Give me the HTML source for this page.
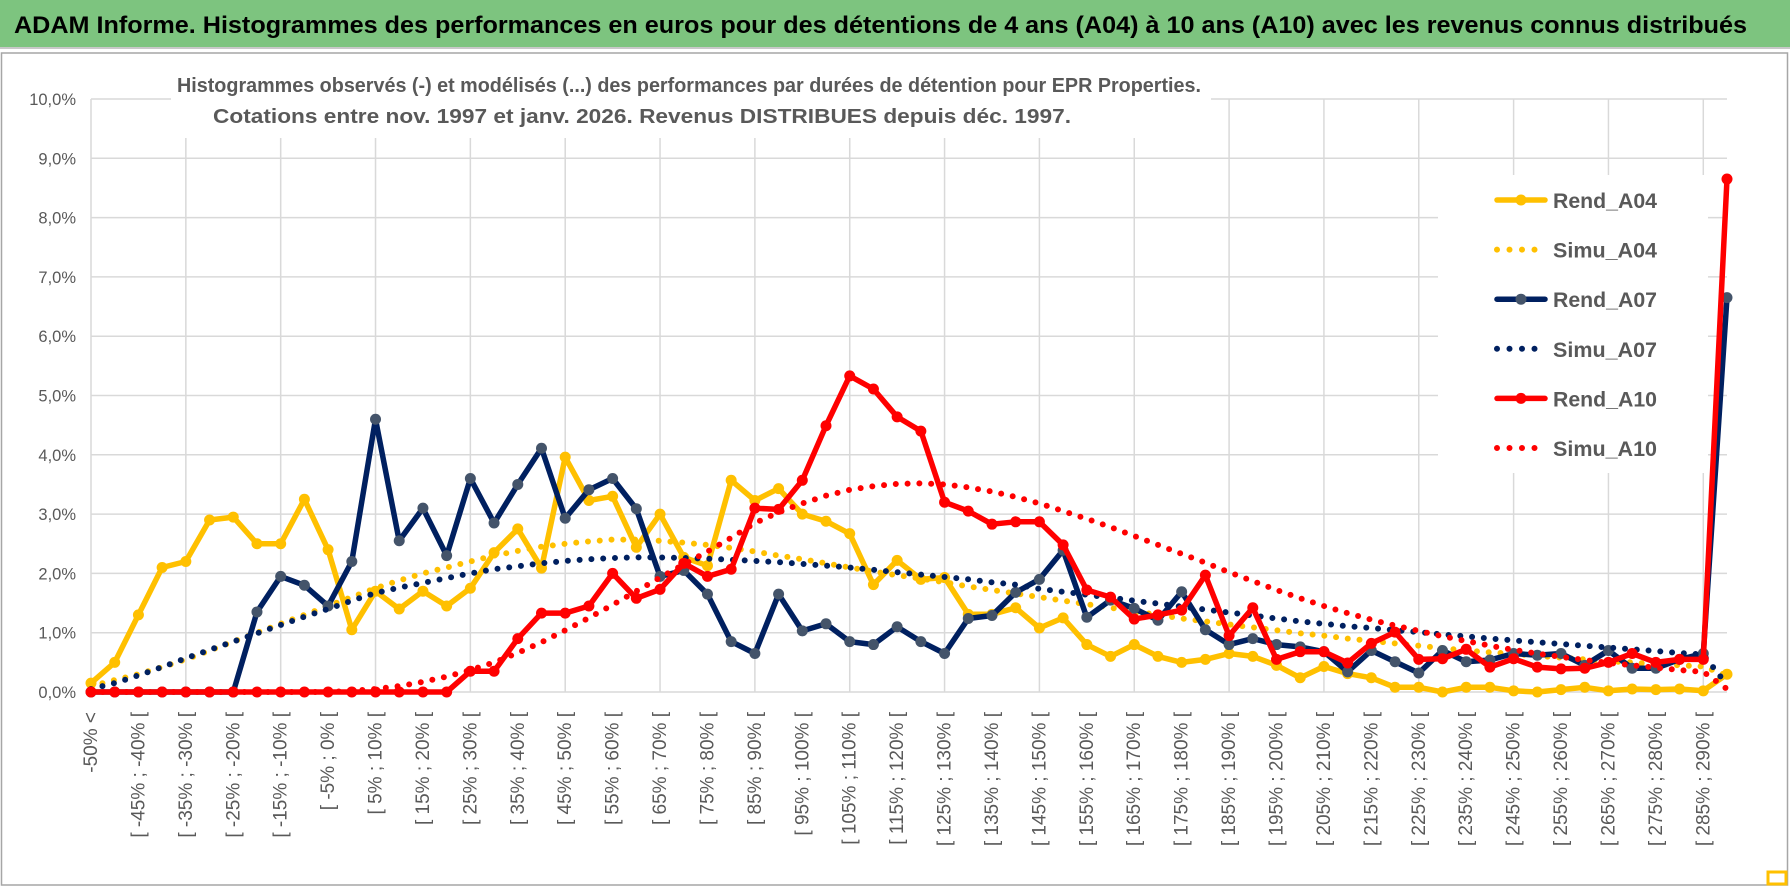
<!DOCTYPE html>
<html><head><meta charset="utf-8"><style>
html,body{margin:0;padding:0;background:#fff;width:1790px;height:888px;overflow:hidden}
svg{display:block;font-family:"Liberation Sans",sans-serif}
</style></head><body>
<svg id="chart" width="1790" height="888" viewBox="0 0 1790 888">
<rect x="0" y="0" width="1790" height="47" fill="#7dc47f"/>
<line x1="0" y1="48" x2="1790" y2="48" stroke="#c8c8c8" stroke-width="2"/>
<text x="14" y="33" font-size="24" font-weight="bold" fill="#000" textLength="1733" lengthAdjust="spacingAndGlyphs">ADAM Informe. Histogrammes des performances en euros pour des détentions de 4 ans (A04) à 10 ans (A10) avec les revenus connus distribués</text>
<rect x="1.5" y="53" width="1786" height="832" fill="#fff" stroke="#a6a6a6" stroke-width="1.5"/>
<g id="grid"></g>
<g id="ylabels"></g>
<g id="xlabels"></g>
<rect x="171" y="68" width="1040" height="70" fill="#fff"/>
<text x="177" y="92" font-size="20" font-weight="bold" fill="#595959" textLength="1024" lengthAdjust="spacingAndGlyphs">Histogrammes observés (-) et modélisés (...) des performances par durées de détention pour EPR Properties.</text>
<text x="213" y="123" font-size="20" font-weight="bold" fill="#595959" textLength="858" lengthAdjust="spacingAndGlyphs">Cotations entre nov. 1997 et janv. 2026. Revenus DISTRIBUES depuis déc. 1997.</text>
<g id="series"></g>
<g id="legend"></g>
<rect x="1768" y="872" width="18" height="12" fill="none" stroke="#ffc000" stroke-width="3"/>
</svg>
<script>
const rendA04 = [0.15,0.5,1.3,2.1,2.2,2.9,2.95,2.5,2.5,3.25,2.4,1.05,1.7,1.4,1.7,1.45,1.75,2.35,2.75,2.09,3.96,3.23,3.3,2.44,3.0,2.27,2.13,3.57,3.23,3.43,3.0,2.88,2.67,1.81,2.22,1.9,1.93,1.31,1.31,1.42,1.08,1.25,0.8,0.6,0.8,0.6,0.5,0.55,0.65,0.6,0.45,0.24,0.43,0.31,0.24,0.08,0.08,0.0,0.08,0.08,0.02,0.0,0.04,0.08,0.02,0.05,0.04,0.05,0.02,0.3];
const simuA04 = [0.1,0.2,0.3,0.42,0.55,0.7,0.85,1.0,1.15,1.3,1.45,1.6,1.75,1.88,2.0,2.1,2.2,2.3,2.38,2.45,2.5,2.54,2.57,2.57,2.55,2.52,2.48,2.43,2.37,2.3,2.24,2.17,2.1,2.03,1.97,1.91,1.85,1.78,1.72,1.66,1.6,1.54,1.48,1.42,1.36,1.3,1.24,1.19,1.14,1.09,1.04,0.99,0.95,0.9,0.86,0.82,0.78,0.74,0.7,0.67,0.64,0.61,0.58,0.55,0.52,0.5,0.47,0.45,0.43,0.28];
const rendA07 = [0,0,0,0,0,0,0,1.35,1.95,1.8,1.45,2.2,4.6,2.55,3.1,2.3,3.6,2.85,3.5,4.11,2.93,3.41,3.6,3.09,1.95,2.05,1.65,0.85,0.65,1.65,1.03,1.15,0.85,0.8,1.1,0.85,0.65,1.24,1.29,1.68,1.9,2.39,1.26,1.55,1.41,1.21,1.69,1.05,0.8,0.9,0.8,0.76,0.68,0.34,0.7,0.51,0.32,0.7,0.51,0.54,0.65,0.62,0.65,0.45,0.7,0.4,0.4,0.55,0.65,6.65];
const simuA07 = [0.05,0.15,0.28,0.42,0.57,0.71,0.85,0.99,1.13,1.27,1.4,1.54,1.67,1.76,1.84,1.92,2.0,2.07,2.12,2.17,2.21,2.24,2.26,2.27,2.27,2.26,2.25,2.23,2.21,2.19,2.16,2.13,2.1,2.06,2.02,1.98,1.94,1.9,1.85,1.81,1.74,1.69,1.64,1.59,1.54,1.49,1.44,1.39,1.34,1.29,1.24,1.19,1.15,1.11,1.08,1.04,1.01,0.97,0.94,0.9,0.87,0.84,0.81,0.78,0.75,0.72,0.69,0.66,0.63,0.12];
const rendA10 = [0,0,0,0,0,0,0,0,0,0,0,0,0,0,0,0,0.35,0.35,0.9,1.33,1.33,1.45,2.0,1.58,1.73,2.17,1.95,2.07,3.1,3.08,3.57,4.49,5.33,5.11,4.64,4.4,3.2,3.05,2.83,2.87,2.87,2.48,1.72,1.6,1.23,1.3,1.38,1.97,0.95,1.42,0.55,0.68,0.68,0.49,0.82,1.01,0.55,0.56,0.72,0.42,0.56,0.42,0.39,0.4,0.5,0.65,0.5,0.55,0.55,8.65];
const simuA10 = [0,0,0,0,0,0,0,0,0,0,0,0.02,0.05,0.1,0.17,0.26,0.37,0.5,0.66,0.84,1.04,1.25,1.47,1.7,1.93,2.15,2.37,2.6,2.85,3.03,3.18,3.31,3.41,3.47,3.51,3.52,3.5,3.45,3.38,3.29,3.18,3.05,2.92,2.78,2.63,2.48,2.33,2.18,2.02,1.87,1.72,1.58,1.45,1.33,1.22,1.12,1.03,0.94,0.86,0.78,0.71,0.65,0.59,0.54,0.49,0.45,0.41,0.37,0.34,0.05];
const yTicks = [0,1,2,3,4,5,6,7,8,9,10];
const seriesNames = ["Rend_A04","Simu_A04","Rend_A07","Simu_A07","Rend_A10","Simu_A10"];

const NS = "http://www.w3.org/2000/svg";
const N = rendA04.length;
const X0 = 91, X1 = 1727, Y0 = 692, Y10 = 99;
function xs(i){ return X0 + (X1 - X0) * i / (N - 1); }
function ys(v){ return Y0 - (Y0 - Y10) * v / 10; }
function mk(tag, attrs, parent){ const e = document.createElementNS(NS, tag); for (const k in attrs) e.setAttribute(k, attrs[k]); parent.appendChild(e); return e; }
function catLabel(i){ if (i === 0) return "-50% <"; const lo = -55 + 5 * i; return "[ " + lo + "% ; " + (lo + 5) + "% ["; }

const grid = document.getElementById("grid");
yTicks.forEach(t => {
  const l = mk("line", {x1: X0, x2: X1, y1: ys(t), y2: ys(t), stroke: "#d9d9d9", "stroke-width": 1.5}, grid);
  
  
});
for (let i = 0; i < N; i += 4) {
  const l = mk("line", {x1: xs(i), x2: xs(i), y1: Y10, y2: Y0, stroke: "#d9d9d9", "stroke-width": 1.5}, grid);
  
  
}
const yl = document.getElementById("ylabels");
yTicks.forEach(t => {
  const tx = mk("text", {x: 76, y: ys(t) + 6, "font-size": 16.5, fill: "#595959", "text-anchor": "end"}, yl);
  tx.textContent = t.toFixed(1).replace(".", ",") + "%";
  
  
});
const xl = document.getElementById("xlabels");
for (let i = 0; i < N; i += 2) {
  const x = xs(i) + 6, y = 712;
  const tx = mk("text", {x: x, y: y, "font-size": 19, fill: "#595959", "text-anchor": "end", transform: "rotate(-90 " + x + " " + y + ")"}, xl);
  tx.textContent = catLabel(i);
  
  
}

const sg = document.getElementById("series");
function pts(arr){ return arr.map((v, i) => xs(i).toFixed(1) + "," + ys(v).toFixed(1)).join(" "); }
function drawRend(arr, color, mcolor, name){
  const g = mk("g", {}, sg);
  
  
  mk("polyline", {points: pts(arr), fill: "none", stroke: color, "stroke-width": 5.5, "stroke-linejoin": "round"}, g);
  arr.forEach((v, i) => {
    const c = mk("circle", {cx: xs(i), cy: ys(v), r: 5.5, fill: mcolor}, g);
    
    
  });
}
function drawSimu(arr, color, name){
  const p = mk("polyline", {points: pts(arr), fill: "none", stroke: color, "stroke-width": 6, "stroke-linecap": "round", "stroke-dasharray": "0 11.8"}, sg);
  
  
}
drawRend(rendA04, "#ffc000", "#ffc000", "rend-a04-line");
drawSimu(simuA04, "#ffc000", "simu-a04-line");
drawRend(rendA07, "#002060", "#44546a", "rend-a07-line");
drawSimu(simuA07, "#002060", "simu-a07-line");
drawRend(rendA10, "#ff0000", "#ff0000", "rend-a10-line");
drawSimu(simuA10, "#ff0000", "simu-a10-line");

const lg = document.getElementById("legend");
mk("rect", {x: 1438, y: 175, width: 270, height: 298, fill: "#fff"}, lg);
const legColors = ["#ffc000","#ffc000","#002060","#002060","#ff0000","#ff0000"];
const legMark = ["#ffc000","#ffc000","#44546a","#44546a","#ff0000","#ff0000"];
seriesNames.forEach((nm, j) => {
  const y = 200 + j * 49.6;
  const g = mk("g", {}, lg);
  
  
  if (j % 2 === 0) {
    mk("line", {x1: 1497, x2: 1545, y1: y, y2: y, stroke: legColors[j], "stroke-width": 5.5, "stroke-linecap": "round"}, g);
    mk("circle", {cx: 1521, cy: y, r: 5.5, fill: legMark[j]}, g);
  } else {
    mk("line", {x1: 1497, x2: 1547, y1: y, y2: y, stroke: legColors[j], "stroke-width": 6, "stroke-linecap": "round", "stroke-dasharray": "0 12.5"}, g);
  }
  const t = mk("text", {x: 1553, y: y + 8, "font-size": 21, "font-weight": "bold", fill: "#595959", textLength: 104, lengthAdjust: "spacingAndGlyphs"}, g);
  t.textContent = nm;
});
</script>
</body></html>
